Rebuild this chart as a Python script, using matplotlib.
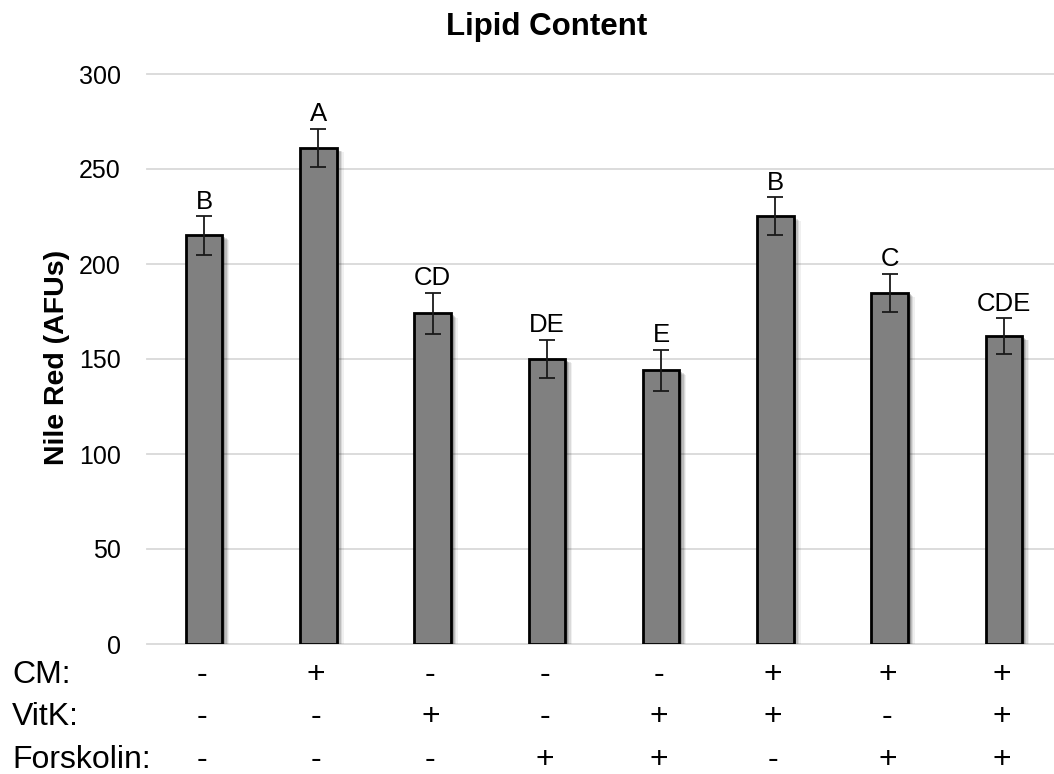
import matplotlib
matplotlib.use("Agg")
import matplotlib.pyplot as plt
import matplotlib.patheffects as pe
import matplotlib.transforms as mtransforms
import numpy as np

# ---- data ----
values = [215, 261, 174, 150, 144, 225, 185, 162]
errors = [10, 10, 11, 10, 11, 10, 10, 9.5]
letters = ["B", "A", "CD", "DE", "E", "B", "C", "CDE"]
row_names = ["CM:", "VitK:", "Forskolin:"]
cm = ["-", "+", "-", "-", "-", "+", "+", "+"]
vitk = ["-", "-", "+", "-", "+", "+", "-", "+"]
forskolin = ["-", "-", "-", "+", "+", "-", "+", "+"]
yticks = [0, 50, 100, 150, 200, 250, 300]
title = "Lipid Content"
ylabel = "Nile Red (AFUs)"

plt.rcParams['font.family'] = ['Liberation Sans', 'DejaVu Sans']

W, H = 1054, 774
fig = plt.figure(figsize=(W / 100, H / 100), dpi=100)
ax_left, ax_right = 147, 1061
ax_top, ax_bottom = 74, 644
ax = fig.add_axes([ax_left / W, 1 - ax_bottom / H,
                   (ax_right - ax_left) / W, (ax_bottom - ax_top) / H])

x = np.arange(len(values))
shadow = [
    pe.SimplePatchShadow(offset=(5.0, -3.0), shadow_rgbFace='black', alpha=0.06),
    pe.SimplePatchShadow(offset=(4.0, -2.4), shadow_rgbFace='black', alpha=0.09),
    pe.SimplePatchShadow(offset=(3.0, -1.8), shadow_rgbFace='black', alpha=0.13),
    pe.SimplePatchShadow(offset=(2.0, -1.2), shadow_rgbFace='black', alpha=0.18),
    pe.Normal(),
]
bars = ax.bar(x, values, width=0.32, color='#808080', edgecolor='black',
              linewidth=2.0, zorder=3)
for b in bars:
    b.set_path_effects(shadow)

ax.errorbar(x, values, yerr=errors, fmt='none', ecolor='#1a1a1a',
            elinewidth=1.3, capsize=6, capthick=1.3, zorder=4)

for xi, v, e, lab in zip(x, values, errors, letters):
    ax.annotate(lab, xy=(xi, v + e), xytext=(0, 5.5), textcoords='offset points',
                ha='center', va='baseline', fontsize=18.5, color='black', zorder=5)

ax.set_xlim(-0.5, len(values) - 0.5)
ax.set_ylim(0, 300)
ax.set_yticks(yticks)
ax.set_xticks([])
ax.tick_params(axis='y', length=0, pad=19, labelsize=18)
for s in ax.spines.values():
    s.set_visible(False)
ax.yaxis.grid(True, color='#d9d9d9', linewidth=1.3, zorder=0)
ax.set_axisbelow(True)
for gl in ax.get_ygridlines():
    gl.set_clip_on(False)

fig.text(547 / W, 1 - 27 / H, title, ha='center', va='center',
         fontsize=22.5, fontweight='bold')
fig.text(57.5 / W, 1 - 357 / H, ylabel, ha='center', va='center',
         rotation=90, fontsize=20.5, fontweight='bold')

# condition rows
trans = mtransforms.blended_transform_factory(ax.transData, fig.transFigure)
rows = [cm, vitk, forskolin]
baselines = [683, 725, 768]
for name, row, base in zip(row_names, rows, baselines):
    fig.text(12 / W, 1 - base / H, name, ha='left', va='baseline', fontsize=23)
    for xi, sym in zip(x, row):
        ax.text(xi - 0.02, 1 - base / H, sym, transform=trans, ha='center',
                va='baseline', fontsize=23, clip_on=False)

fig.savefig("out.png", dpi=100)
